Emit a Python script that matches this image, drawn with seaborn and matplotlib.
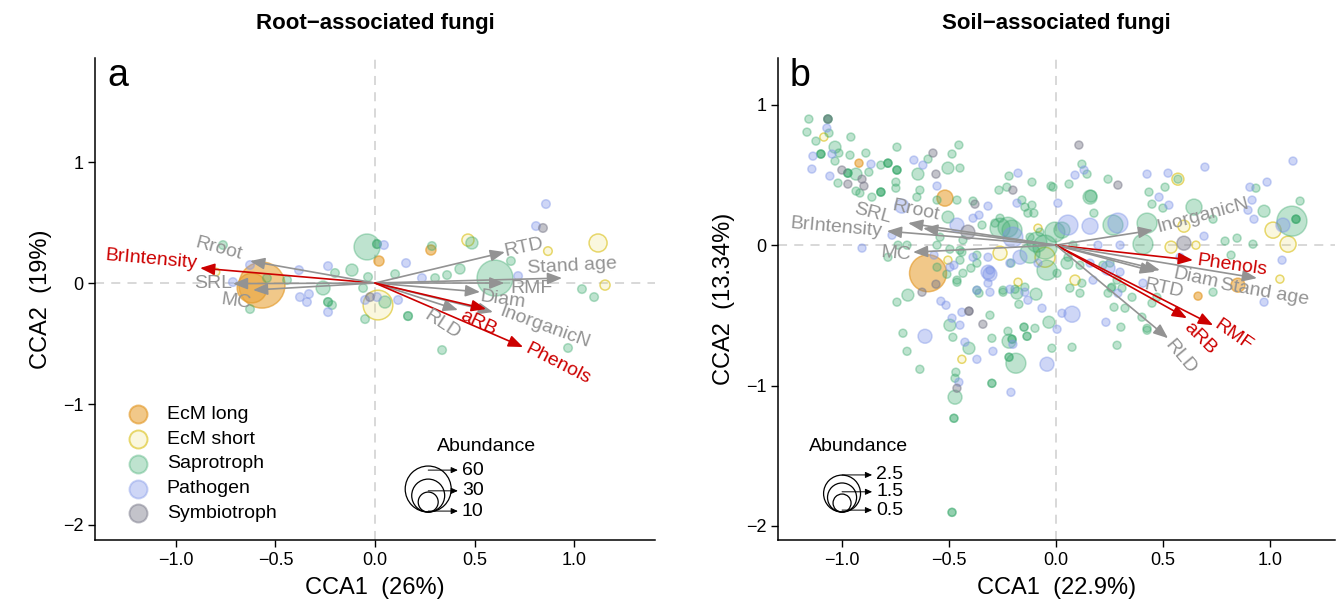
import numpy as np
import pandas as pd
import matplotlib
matplotlib.use("Agg")
import matplotlib.pyplot as plt
import seaborn as sns
from matplotlib.colors import to_rgba

sns.set_theme(style="white")
plt.rcParams['font.family'] = ['Liberation Sans', 'DejaVu Sans']

# ---------------- data: panel a (root-associated fungi) ----------------
# (CCA1, CCA2, abundance)
a_ecm_long = [(-0.568, -0.017, 60), (-0.618, -0.041, 24), (0.020, 0.182, 1.3), (0.281, 0.273, 1.3)]
a_ecm_short = [(0.015, -0.182, 24), (1.121, 0.331, 7.8), (1.156, -0.017, 1.3), (0.467, 0.355, 2.6),
               (0.869, 0.264, 0.5), (-0.799, 0.091, 0)]
a_saprotroph = [(-0.040, 0.298, 18), (0.603, 0.041, 36), (-0.116, 0.107, 2.6), (1.040, -0.050, 0.5),
                (1.101, -0.116, 0.5), (0.683, 0.182, 0.5), (0.427, 0.116, 1.3), (0.286, 0.306, 0.5),
                (0.050, -0.157, 2.6), (-0.216, -0.182, 0.5), (-0.261, -0.041, 4), (-0.201, 0.083, 0.5),
                (-0.628, -0.215, 0.5), (-0.764, 0.314, 0.5), (0.362, 0.066, 0.5), (0.302, 0.041, 0.5),
                (0.101, 0.074, 0.5), (0.166, -0.273, 0.5), (0.166, -0.273, 0.5), (-0.050, -0.298, 0.5),
                (0.337, -0.554, 0.5), (0.970, -0.537, 0.5), (-0.035, 0.050, 0.5), (-0.060, -0.041, 0.5),
                (-0.236, -0.157, 0.5), (-0.236, -0.157, 0.5), (-0.442, 0.025, 0.5), (-0.543, 0.041, 0.5),
                (0.487, 0.331, 2.6), (0.010, 0.322, 0.5), (0.010, 0.322, 0.5)]
a_pathogen = [(0.859, 0.653, 0.5), (0.809, 0.471, 0.5), (0.156, 0.165, 0.5), (-0.236, 0.140, 0.5),
              (-0.382, 0.107, 0.5), (-0.377, -0.116, 0.5), (-0.342, -0.157, 0.5), (-0.236, -0.240, 0.5),
              (0.116, -0.140, 0.5), (0.045, 0.314, 0.5), (0.236, 0.041, 0.5), (0.719, 0.058, 0.5),
              (-0.050, -0.140, 0.5), (0.010, -0.116, 0.5), (-0.628, 0.149, 0.5), (-0.714, 0.008, 0.5),
              (-0.332, -0.091, 0.5)]
a_symbiotroph = [(0.844, 0.455, 0.5), (-0.025, -0.116, 0.5)]

a_vars = ["BrIntensity", "Rroot", "SRL", "MC", "RTD", "Stand age", "RMF", "Diam",
          "InorganicN", "RLD", "aRB", "Phenols"]
a_cca1 = [-0.879, -0.628, -0.714, -0.613, 0.653, 0.940, 0.650, 0.528, 0.593, 0.417, 0.558, 0.744]
a_cca2 = [0.124, 0.182, -0.005, -0.058, 0.256, 0.041, 0.000, -0.074, -0.240, -0.223, -0.215, -0.529]
a_signif = [True, False, False, False, False, False, False, False, False, False, True, True]

# ---------------- data: panel b (soil-associated fungi) ----------------
b_ecm_long = [(-0.597, -0.200, 2.95), (-0.518, 0.335, 0.37), (-0.919, 0.584, 0), (0.849, -0.285, 0.25),
              (0.663, -0.363, 0)]
b_ecm_short = [(-1.083, 0.770, 0), (-0.051, -0.086, 0.64), (-0.261, -0.057, 0.25), (-0.504, -0.107, 0),
               (-0.177, -0.264, 0), (0.089, -0.249, 0.07), (-0.084, 0.121, 0), (-0.439, -0.813, 0),
               (0.569, 0.470, 0.15), (0.537, -0.014, 0.15), (0.653, 0.0, 0), (0.597, 0.135, 0.15),
               (1.013, 0.107, 0.37), (1.083, 0.007, 0.37), (1.045, -0.242, 0)]
b_saprotroph = [
    (-1.153, 0.898, 0), (-1.120, 0.741, 0), (-1.162, 0.805, 0), (-1.059, 0.798, 0), (-0.957, 0.770, 0),
    (-1.031, 0.698, 0.15), (-1.031, 0.599, 0), (-1.013, 0.656, 0), (-0.961, 0.641, 0), (-0.887, 0.656, 0),
    (-0.817, 0.570, 0), (-0.933, 0.506, 0.15), (-0.873, 0.520, 0), (-1.017, 0.442, 0), (-0.933, 0.385, 0),
    (-0.859, 0.342, 0), (-0.915, 0.371, 0), (-0.747, 0.406, 0), (-0.747, 0.449, 0), (-0.742, 0.698, 0),
    (-0.597, 0.613, 0), (-0.485, 0.649, 0), (-0.453, 0.713, 0), (-0.448, 0.549, 0), (-0.504, 0.549, 0.15),
    (-0.644, 0.506, 0.15), (-0.635, 0.392, 0), (-0.649, 0.342, 0), (-0.555, 0.321, 0), (-0.462, 0.321, 0),
    (-0.504, 0.200, 0.15), (-0.387, 0.314, 0), (-0.345, 0.143, 0), (-0.266, 0.392, 0), (-0.219, 0.492, 0),
    (-0.229, 0.413, 0), (-0.159, 0.321, 0), (-0.145, 0.271, 0), (-0.112, 0.449, 0), (-0.023, 0.421, 0),
    (-0.103, 0.228, 0), (-0.261, 0.192, 0), (-0.784, -0.086, 0), (-0.737, 0.0, 0), (-0.695, 0.0, 0),
    (-0.555, 0.0, 0), (-0.448, -0.036, 0), (-0.369, -0.128, 0), (-0.397, -0.164, 0),
    (-1.097, 0.649, 0), (-1.097, 0.649, 0), (-1.097, 0.649, 0),
    (-0.784, 0.584, 0), (-0.784, 0.584, 0), (-0.784, 0.584, 0),
    (-0.742, 0.535, 0), (-0.742, 0.535, 0), (-0.742, 0.535, 0),
    (-0.971, 0.513, 0), (-0.971, 0.513, 0), (-0.971, 0.513, 0),
    (-0.817, 0.378, 0), (-0.817, 0.378, 0), (-0.817, 0.378, 0),
    (-1.064, 0.898, 0), (-1.064, 0.898, 0), (-1.064, 0.898, 0),
    (-0.261, 0.121, 0.64), (-0.224, 0.128, 0.64), (-0.205, 0.107, 0.64), (-0.089, 0.021, 0.64),
    (-0.121, -0.057, 0.64), (-0.042, -0.178, 0.64), (-0.005, 0.093, 0.64), (0.028, 0.107, 0.37),
    (-0.051, -0.014, 0.98),
    (-0.285, 0.157, 0), (-0.075, 0.093, 0), (-0.121, 0.057, 0), (0.079, 0.0, 0), (0.056, -0.086, 0),
    (0.112, -0.143, 0), (0.005, -0.200, 0), (-0.210, -0.128, 0), (-0.191, -0.314, 0), (-0.145, -0.299, 0),
    (-0.247, -0.321, 0), (-0.369, -0.321, 0), (-0.112, 0.285, 0), (-0.131, 0.228, 0), (-0.541, 0.057, 0),
    (-0.495, -0.029, 0), (-0.439, -0.050, 0), (-0.369, -0.071, 0), (-0.448, -0.107, 0), (-0.434, -0.200, 0),
    (-0.462, -0.249, 0), (-0.555, -0.157, 0), (-0.434, 0.036, 0), (0.163, 0.349, 0.15), (0.177, 0.228, 0),
    (0.266, 0.143, 0.64), (0.219, -0.143, 0), (0.285, -0.249, 0), (0.308, -0.306, 0), (0.261, -0.299, 0),
    (-0.691, -0.356, 0.15), (-0.742, -0.406, 0), (-0.509, -0.207, 0), (-0.462, -0.264, 0),
    (-0.495, -0.570, 0.15), (-0.308, -0.499, 0), (-0.359, -0.342, 0), (-0.714, -0.627, 0),
    (-0.481, -0.656, 0), (-0.406, -0.734, 0.15), (-0.299, -0.663, 0), (-0.695, -0.756, 0),
    (-0.635, -0.884, 0), (-0.467, -0.905, 0), (-0.471, -0.948, 0), (-0.471, -1.083, 0.25),
    (-0.476, -1.233, 0), (-0.476, -1.233, 0), (-0.485, -1.903, 0), (-0.485, -1.903, 0),
    (-0.224, -0.613, 0), (-0.219, -0.684, 0.25), (-0.205, -0.670, 0), (-0.205, -0.670, 0),
    (-0.219, -0.798, 0), (-0.219, -0.798, 0), (-0.187, -0.841, 0.64), (-0.299, -0.984, 0),
    (-0.299, -0.984, 0), (-0.149, -0.584, 0), (-0.149, -0.584, 0), (-0.135, -0.649, 0),
    (-0.135, -0.649, 0), (-0.098, -0.592, 0), (-0.033, -0.549, 0.15), (-0.019, -0.734, 0),
    (-0.173, -0.421, 0), (-0.182, -0.342, 0.15), (-0.093, -0.349, 0.15), (-0.247, -0.335, 0),
    (0.065, -0.306, 0), (0.112, -0.342, 0), (0.285, -0.713, 0), (0.075, -0.727, 0), (0.303, -0.584, 0),
    (0.401, -0.513, 0), (0.425, -0.606, 0), (0.243, -0.342, 0), (0.355, -0.371, 0), (0.051, -0.128, 0.15),
    (0.471, -0.371, 0), (0.252, -0.128, 0), (0.448, -0.413, 0), (0.733, -0.335, 0), (0.271, -0.442, 0),
    (0.322, -0.449, 0), (0.257, -0.306, 0), (0.425, -0.592, 0), (0.121, -0.271, 0),
    (0.121, 0.577, 0), (0.145, 0.506, 0), (0.061, 0.435, 0), (-0.014, 0.413, 0), (0.159, 0.342, 0.25),
    (0.243, 0.470, 0), (0.509, 0.413, 0), (0.434, 0.378, 0), (0.448, 0.292, 0), (0.499, 0.264, 0),
    (0.644, 0.271, 0.37), (0.425, 0.157, 0.64), (0.406, 0.007, 0.64), (0.789, 0.029, 0), (0.845, 0.050, 0),
    (0.919, 0.007, 0), (0.733, 0.185, 0), (0.933, 0.406, 0), (1.139, 0.314, 0), (0.971, 0.242, 0.15),
    (1.101, 0.171, 1.6), (1.120, 0.185, 0), (1.120, 0.185, 0), (1.120, 0.185, 0), (0.817, -0.071, 0),
    (0.569, 0.470, 0)]
b_pathogen = [
    (-1.069, 0.834, 0), (-1.134, 0.634, 0), (-1.045, 0.649, 0), (-0.863, 0.577, 0), (-1.139, 0.542, 0),
    (-1.055, 0.492, 0), (-0.663, 0.606, 0), (-0.621, 0.570, 0), (-0.555, 0.421, 0), (-0.719, 0.278, 0.25),
    (-0.317, 0.278, 0), (-0.387, 0.192, 0), (-0.359, 0.214, 0), (-0.177, 0.513, 0), (-0.182, 0.299, 0),
    (-0.201, 0.057, 0.64), (-0.905, -0.021, 0), (-0.765, 0.071, 0), (-0.569, -0.071, 0), (-0.476, -0.143, 0),
    (-0.317, -0.086, 0), (-0.215, -0.128, 0), (-0.308, -0.178, 0), (-0.168, -0.086, 0.25), (0.009, 0.299, 0),
    (-0.462, 0.143, 0.25), (-0.495, -0.157, 0), (-0.084, -0.128, 0), (-0.308, -0.335, 0), (0.159, -0.128, 0),
    (0.243, -0.164, 0.25), (-0.387, -0.086, 0), (0.056, 0.143, 0.64), (0.289, 0.157, 0.64), (0.159, 0.135, 0.37),
    (-0.317, -0.192, 0.25), (-0.513, -0.428, 0), (-0.537, -0.399, 0), (-0.439, -0.478, 0), (-0.485, -0.520, 0),
    (-0.448, -0.570, 0), (-0.369, -0.321, 0), (-0.308, -0.207, 0.25), (-0.317, -0.271, 0),
    (-0.611, -0.649, 0.25), (-0.425, -0.691, 0), (-0.294, -0.756, 0), (-0.369, -0.813, 0), (-0.453, -0.976, 0),
    (-0.201, -0.706, 0), (-0.210, -1.048, 0), (-0.042, -0.848, 0.25), (-0.065, -0.449, 0), (-0.131, -0.392, 0),
    (-0.215, -0.314, 0), (-0.145, -0.335, 0), (0.075, -0.492, 0.37), (0.028, -0.485, 0), (0.233, -0.549, 0),
    (0.299, -0.192, 0), (0.579, -0.086, 0), (0.005, -0.599, 0), (0.289, -0.342, 0), (0.406, -0.271, 0),
    (0.173, -0.249, 0), (0.971, -0.406, 0), (0.131, 0.535, 0), (0.089, 0.499, 0), (0.425, 0.506, 0),
    (0.523, 0.513, 0), (0.695, 0.556, 0), (0.481, 0.342, 0), (0.527, 0.285, 0), (0.299, 0.0, 0),
    (0.196, 0.0, 0), (0.691, 0.064, 0), (0.905, 0.413, 0), (0.985, 0.449, 0), (1.106, 0.599, 0),
    (0.924, 0.185, 0), (1.059, 0.143, 0.25), (1.055, -0.107, 0), (0.896, 0.249, 0), (0.915, 0.321, 0)]
b_symbiotroph = [(-0.999, 0.535, 0), (-0.971, 0.435, 0), (-0.896, 0.421, 0), (-0.905, 0.470, 0),
                 (-0.574, 0.656, 0), (-0.560, 0.506, 0), (-0.378, 0.292, 0), (-0.411, 0.093, 0.25),
                 (-0.201, 0.392, 0), (-0.625, -0.335, 0), (-0.560, -0.278, 0), (-0.341, -0.563, 0),
                 (-0.462, -1.019, 0), (-0.406, -0.470, 0), (-0.406, -0.470, 0), (0.107, 0.713, 0),
                 (0.289, 0.428, 0), (0.597, 0.014, 0.25), (-1.064, 0.898, 0)]

b_vars = ["BrIntensity", "SRL", "Rroot", "MC", "InorganicN", "Phenols", "Diam", "Stand age",
          "RTD", "aRB", "RMF", "RLD"]
b_cca1 = [-0.789, -0.690, -0.620, -0.667, 0.453, 0.639, 0.485, 0.938, 0.462, 0.611, 0.733, 0.523]
b_cca2 = [0.100, 0.157, 0.120, -0.050, 0.107, -0.107, -0.178, -0.235, -0.190, -0.520, -0.570, -0.663]
b_signif = [False, False, False, False, False, True, False, False, False, True, True, False]

GROUPS = ["EcM long", "EcM short", "Saprotroph", "Pathogen", "Symbiotroph"]
a_legend_levels = [60, 30, 10]
b_legend_levels = [2.5, 1.5, 0.5]

# ---------------- styles / layout ----------------
STYLE = {
    "EcM long": (to_rgba("#E9A43A", 0.6), to_rgba("#E39A2A", 0.65)),
    "EcM short": (to_rgba("#E8D44D", 0.18), to_rgba("#E0CB3E", 0.75)),
    "Saprotroph": (to_rgba("#3CAA6E", 0.33), to_rgba("#3CAA6E", 0.38)),
    "Pathogen": (to_rgba("#7F95E8", 0.38), to_rgba("#7F95E8", 0.42)),
    "Symbiotroph": (to_rgba("#7A7A8A", 0.45), to_rgba("#7A7A8A", 0.5)),
}
GREY = "#939393"
RED = "#CC0000"
# label offsets from arrow tip (pixels, right / up) and rotation (deg)
a_label_layout = {"BrIntensity": (-49, 8, -5), "Rroot": (-31, 12, -15), "SRL": (-20, 0, 0),
                  "MC": (-17, -12, -8), "RTD": (19, 5, 12), "Stand age": (10, 12, 3),
                  "RMF": (27, -5, 0), "Diam": (23, -8, -8), "InorganicN": (52, -15, -20),
                  "RLD": (-16, -15, -33), "aRB": (-8, -14, -25), "Phenols": (35, -17, -27)}
b_label_layout = {"BrIntensity": (-51, 4, -5), "SRL": (-35, 10, -15), "Rroot": (-7, 18, -12),
                  "MC": (-17, -2, -5), "InorganicN": (50, 15, 15), "Phenols": (39, -5, -8),
                  "Diam": (36, -8, -12), "Stand age": (8, -14, -10), "RTD": (9, -17, -12),
                  "aRB": (13, -20, -45), "RMF": (20, -10, -35), "RLD": (12, -19, -50)}

PX2PT = 0.72
AX_H_PX = 482.0


def frame(groups):
    parts = []
    for g, pts in groups.items():
        arr = np.array(pts, dtype=float)
        parts.append(pd.DataFrame({"CCA1": arr[:, 0], "CCA2": arr[:, 1], "abund": arr[:, 2], "group": g}))
    return pd.concat(parts, ignore_index=True)


def size_of(a, norm, sizes):
    return sizes[0] + (a - norm[0]) / (norm[1] - norm[0]) * (sizes[1] - sizes[0])


def draw_panel(ax, df, norm, sizes, vars_, c1, c2, sig, layout, xlim, ylim):
    ax.axhline(0, color="#d5d5d5", lw=1.3, ls=(0, (5, 4)), zorder=0)
    ax.axvline(0, color="#d5d5d5", lw=1.3, ls=(0, (5, 4)), zorder=0)
    for g in GROUPS:
        sub = df[df.group == g]
        if sub.empty:
            continue
        fill, edge = STYLE[g]
        sns.scatterplot(data=sub, x="CCA1", y="CCA2", size="abund", sizes=sizes, size_norm=norm,
                        color=fill, edgecolor=edge, linewidth=1.1, legend=False, ax=ax, zorder=2)
    for v, x, y, s in zip(vars_, c1, c2, sig):
        col = RED if s else GREY
        ax.annotate("", xy=(x, y), xytext=(0, 0),
                    arrowprops=dict(arrowstyle="-|>,head_length=0.55,head_width=0.22",
                                    color=col, lw=1.2, shrinkA=0, shrinkB=0, mutation_scale=16),
                    zorder=4)
        dx, dy, rot = layout[v]
        ax.annotate(v, xy=(x, y), xytext=(dx * PX2PT, dy * PX2PT), textcoords="offset points",
                    ha="center", va="center", rotation=rot, rotation_mode="anchor",
                    fontsize=14, color=col, zorder=5)
    ax.set_xlim(*xlim)
    ax.set_ylim(*ylim)
    ax.set_xticks([-1, -0.5, 0, 0.5, 1])
    ax.set_xticklabels(["\u22121.0", "\u22120.5", "0.0", "0.5", "1.0"])
    for sp in ["top", "right"]:
        ax.spines[sp].set_visible(False)
    for sp in ["left", "bottom"]:
        ax.spines[sp].set_color("black")
        ax.spines[sp].set_linewidth(1.1)
    ax.tick_params(axis="both", which="major", direction="out", length=5, width=1.0,
                   color="black", labelsize=13, labelcolor="black", bottom=True, left=True)


def size_legend(ax, levels, norm, sizes, title_xy, cx, bottom, label_x, label_ys, arrow_end):
    ax.text(title_xy[0], title_xy[1], "Abundance", transform=ax.transAxes, ha="center", va="center",
            fontsize=14, color="black")
    for lev, ly in zip(levels, label_ys):
        s = size_of(lev, norm, sizes)
        r_px = np.sqrt(s) / 1.44
        cy = bottom + r_px / AX_H_PX
        ax.scatter([cx], [cy], s=s, facecolor="none", edgecolor="black", linewidth=0.9,
                   transform=ax.transAxes, clip_on=False, zorder=6)
        ax.annotate("", xy=(arrow_end, ly), xytext=(cx, ly), xycoords="axes fraction",
                    textcoords="axes fraction",
                    arrowprops=dict(arrowstyle="-|>,head_length=0.4,head_width=0.18", color="black",
                                    lw=0.7, shrinkA=0, shrinkB=0, mutation_scale=10), zorder=6)
        ax.text(label_x, ly, f"{lev:g}", transform=ax.transAxes, ha="left", va="center",
                fontsize=14, color="black")


fig = plt.figure(figsize=(13.41, 6.12), dpi=100)
ax_a = fig.add_axes([95 / 1341, 72 / 612, 560 / 1341, 482 / 612])
ax_b = fig.add_axes([778 / 1341, 72 / 612, 557 / 1341, 482 / 612])

df_a = frame({"EcM long": a_ecm_long, "EcM short": a_ecm_short, "Saprotroph": a_saprotroph,
              "Pathogen": a_pathogen, "Symbiotroph": a_symbiotroph})
df_b = frame({"EcM long": b_ecm_long, "EcM short": b_ecm_short, "Saprotroph": b_saprotroph,
              "Pathogen": b_pathogen, "Symbiotroph": b_symbiotroph})

a_norm, a_sizes = (0, 60), (29, 1097)
b_norm, b_sizes = (0, 2.5), (33, 708)

draw_panel(ax_a, df_a, a_norm, a_sizes, a_vars, a_cca1, a_cca2, a_signif, a_label_layout,
           (-1.407, 1.407), (-2.124, 1.860))
ax_a.set_yticks([-2, -1, 0, 1])
ax_a.set_yticklabels(["\u22122", "\u22121", "0", "1"])
ax_a.set_xlabel("CCA1  (26%)", fontsize=17, color="black", labelpad=6)
ax_a.set_ylabel("CCA2  (19%)", fontsize=17, color="black", labelpad=8)

draw_panel(ax_b, df_b, b_norm, b_sizes, b_vars, b_cca1, b_cca2, b_signif, b_label_layout,
           (-1.297, 1.302), (-2.100, 1.333))
ax_b.set_yticks([-2, -1, 0, 1])
ax_b.set_yticklabels(["\u22122", "\u22121", "0", "1"])
ax_b.set_xlabel("CCA1  (22.9%)", fontsize=17, color="black", labelpad=6)
ax_b.set_ylabel("CCA2  (13.34%)", fontsize=17, color="black", labelpad=8)

# group legend (panel a)
leg_rows = [0.261, 0.209, 0.158, 0.106, 0.056]
for g, fy in zip(GROUPS, leg_rows):
    fill, edge = STYLE[g]
    ax_a.scatter([0.077], [fy], s=(1.44 * 9) ** 2, color=fill, edgecolor=edge, linewidth=1.4,
                 transform=ax_a.transAxes, clip_on=False, zorder=6)
    ax_a.text(0.128, fy, g, transform=ax_a.transAxes, ha="left", va="center", fontsize=14, color="black")

size_legend(ax_a, a_legend_levels, a_norm, a_sizes, (0.700, 0.193), 0.595, 0.058, 0.655,
            [0.145, 0.102, 0.060], 0.648)
size_legend(ax_b, b_legend_levels, b_norm, b_sizes, (0.144, 0.193), 0.115, 0.058, 0.176,
            [0.135, 0.100, 0.062], 0.169)

ax_a.text(0.041, 0.962, "a", transform=ax_a.transAxes, ha="center", va="center", fontsize=27, color="black")
ax_b.text(0.040, 0.962, "b", transform=ax_b.transAxes, ha="center", va="center", fontsize=27, color="black")

fig.text(375 / 1341, 1 - 23 / 612, "Root\u2212associated fungi", ha="center", va="center",
         fontsize=16, fontweight="bold", color="black")
fig.text(1056 / 1341, 1 - 23 / 612, "Soil\u2212associated fungi", ha="center", va="center",
         fontsize=16, fontweight="bold", color="black")

fig.savefig("out.png", dpi=100)
